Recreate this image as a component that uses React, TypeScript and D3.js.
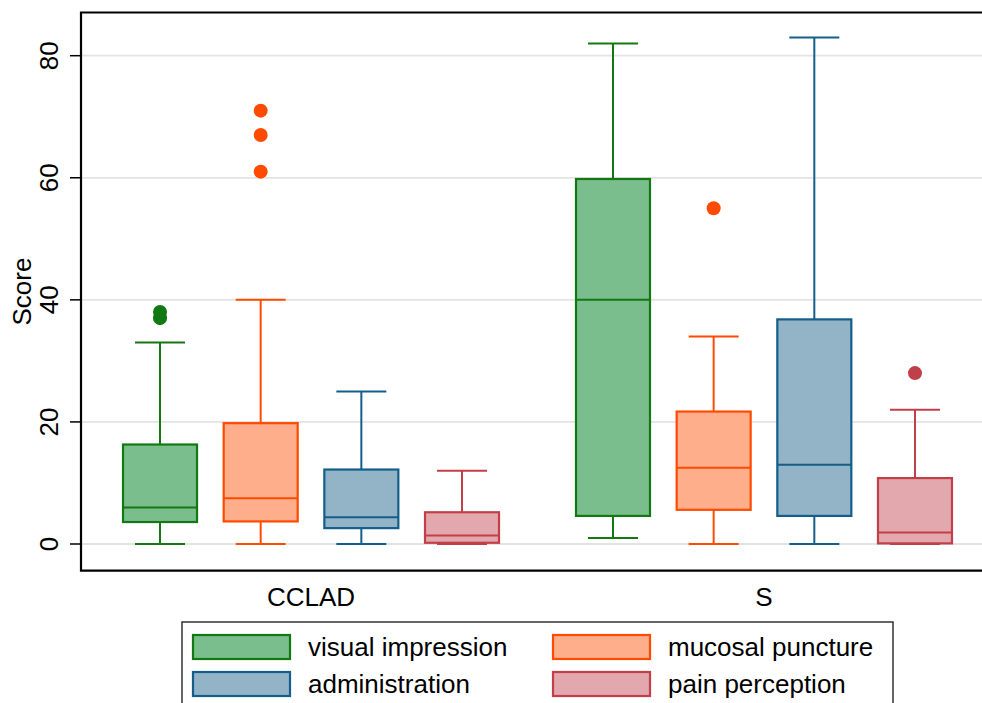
import React, { useRef, useEffect } from 'react';
import * as d3 from 'd3';

const groups = ['CCLAD', 'S'];
const measures = ['visual impression', 'mucosal puncture', 'administration', 'pain perception'];
const lineColors = ['#127812', '#ff4a00', '#135e8b', '#c13f48'];
const fillColors = ['#7bbe8e', '#ffae8b', '#93b3c7', '#e3a8ad'];

// order: CCLAD x 4 measures, then S x 4 measures
const whiskerLow = [0, 0, 0, 0, 1, 0, 0, 0];
const q1 = [3.6, 3.7, 2.6, 0.2, 4.6, 5.6, 4.6, 0.1];
const median = [6, 7.5, 4.4, 1.4, 40, 12.5, 13, 1.9];
const q3 = [16.3, 19.8, 12.2, 5.2, 59.8, 21.7, 36.8, 10.8];
const whiskerHigh = [33, 40, 25, 12, 82, 34, 83, 22];
const outliers = [[37, 38], [61, 67, 71], [], [], [], [55], [], [28]];

const yTicks = [0, 20, 40, 60, 80];

const W = 982;
const H = 703;
const font = 'Liberation Sans, Arial, Helvetica, sans-serif';
const fs = '26px';

const App = () => {
  const svgRef = useRef(null);

  useEffect(() => {
    const svg = d3.select(svgRef.current);
    svg.selectAll('*').remove();

    const plot = { left: 81, right: 994, top: 12.5, bottom: 570.7 };

    // slot positions: 4 boxes per group, 1.5 slot gap between groups
    const slot = (g, m) => g * 4.5 + m;
    const x = d3.scaleLinear().domain([-0.785, 8.285]).range([plot.left, plot.right]);
    const y = d3.scaleLinear().domain([0, 80]).range([544, 55.7]);
    const boxHalf = 37;
    const capHalf = 25;

    // gridlines
    svg.append('g')
      .selectAll('line')
      .data(yTicks)
      .enter()
      .append('line')
      .attr('x1', plot.left)
      .attr('x2', plot.right)
      .attr('y1', (d) => y(d))
      .attr('y2', (d) => y(d))
      .attr('stroke', '#e3e3e3')
      .attr('stroke-width', 1.8);

    // boxes
    const items = [];
    groups.forEach((g, gi) => {
      measures.forEach((m, mi) => {
        items.push({ i: gi * 4 + mi, gi, mi });
      });
    });

    const box = svg.append('g')
      .selectAll('g')
      .data(items)
      .enter()
      .append('g')
      .attr('transform', (d) => `translate(${x(slot(d.gi, d.mi))},0)`);

    box.append('line')
      .attr('x1', 0).attr('x2', 0)
      .attr('y1', (d) => y(q3[d.i])).attr('y2', (d) => y(whiskerHigh[d.i]))
      .attr('stroke', (d) => lineColors[d.mi]).attr('stroke-width', 2);
    box.append('line')
      .attr('x1', 0).attr('x2', 0)
      .attr('y1', (d) => y(q1[d.i])).attr('y2', (d) => y(whiskerLow[d.i]))
      .attr('stroke', (d) => lineColors[d.mi]).attr('stroke-width', 2);
    box.append('line')
      .attr('x1', -capHalf).attr('x2', capHalf)
      .attr('y1', (d) => y(whiskerHigh[d.i])).attr('y2', (d) => y(whiskerHigh[d.i]))
      .attr('stroke', (d) => lineColors[d.mi]).attr('stroke-width', 2);
    box.append('line')
      .attr('x1', -capHalf).attr('x2', capHalf)
      .attr('y1', (d) => y(whiskerLow[d.i])).attr('y2', (d) => y(whiskerLow[d.i]))
      .attr('stroke', (d) => lineColors[d.mi]).attr('stroke-width', 2);
    box.append('rect')
      .attr('x', -boxHalf)
      .attr('width', boxHalf * 2)
      .attr('y', (d) => y(q3[d.i]))
      .attr('height', (d) => y(q1[d.i]) - y(q3[d.i]))
      .attr('fill', (d) => fillColors[d.mi])
      .attr('stroke', (d) => lineColors[d.mi])
      .attr('stroke-width', 2.2);
    box.append('line')
      .attr('x1', -boxHalf).attr('x2', boxHalf)
      .attr('y1', (d) => y(median[d.i])).attr('y2', (d) => y(median[d.i]))
      .attr('stroke', (d) => lineColors[d.mi]).attr('stroke-width', 2);
    box.selectAll('circle')
      .data((d) => outliers[d.i].map((v) => ({ v, mi: d.mi })))
      .enter()
      .append('circle')
      .attr('cx', 0)
      .attr('cy', (d) => y(d.v))
      .attr('r', 7)
      .attr('fill', (d) => lineColors[d.mi]);

    // frame (right side runs off the image)
    svg.append('path')
      .attr('d', `M${plot.right},${plot.top}H${plot.left}V${plot.bottom}H${plot.right}`)
      .attr('fill', 'none')
      .attr('stroke', '#000')
      .attr('stroke-width', 2.2);

    // y axis ticks + labels
    const yAxis = svg.append('g');
    yAxis.selectAll('line')
      .data(yTicks)
      .enter()
      .append('line')
      .attr('x1', 70).attr('x2', plot.left)
      .attr('y1', (d) => y(d)).attr('y2', (d) => y(d))
      .attr('stroke', '#000').attr('stroke-width', 1.5);
    yAxis.selectAll('text')
      .data(yTicks)
      .enter()
      .append('text')
      .attr('transform', (d) => `translate(58,${y(d)}) rotate(-90)`)
      .attr('text-anchor', 'middle')
      .style('font-family', font)
      .style('font-size', fs)
      .text((d) => d);

    svg.append('text')
      .attr('transform', `translate(31,${(plot.top + plot.bottom) / 2}) rotate(-90)`)
      .attr('text-anchor', 'middle')
      .style('font-family', font)
      .style('font-size', fs)
      .text('Score');

    // group labels
    svg.selectAll('.glabel')
      .data(groups)
      .enter()
      .append('text')
      .attr('class', 'glabel')
      .attr('x', (d, gi) => x(slot(gi, 1.5)))
      .attr('y', 606)
      .attr('text-anchor', 'middle')
      .style('font-family', font)
      .style('font-size', fs)
      .text((d) => d);

    // legend
    const legend = svg.append('g');
    legend.append('rect')
      .attr('x', 182).attr('y', 622)
      .attr('width', 711).attr('height', 100)
      .attr('fill', '#fff')
      .attr('stroke', '#333')
      .attr('stroke-width', 1.5);
    const li = legend.selectAll('g')
      .data(measures)
      .enter()
      .append('g')
      .attr('transform', (d, i) => `translate(${i % 2 === 0 ? 193 : 553},${i < 2 ? 635 : 672})`);
    li.append('rect')
      .attr('x', 0).attr('y', 0)
      .attr('width', 97).attr('height', 24)
      .attr('fill', (d, i) => fillColors[i])
      .attr('stroke', (d, i) => lineColors[i])
      .attr('stroke-width', 2.2);
    li.append('text')
      .attr('x', 115)
      .attr('y', 21)
      .style('font-family', font)
      .style('font-size', fs)
      .text((d) => d);
  }, []);

  return (
    <svg ref={svgRef} width={W} height={H} style={{ position: 'absolute', left: 0, top: 0, background: '#fff' }} />
  );
};

export default App;
